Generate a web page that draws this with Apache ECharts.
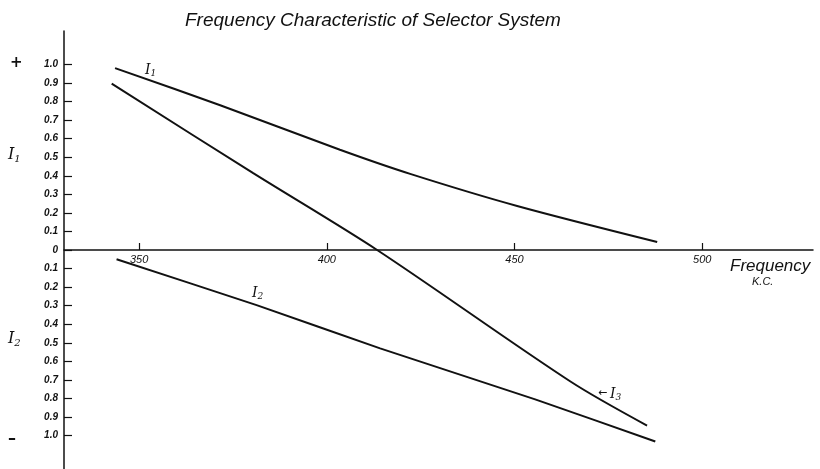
<!DOCTYPE html>
<html>
<head>
<meta charset="utf-8">
<script src="https://cdn.jsdelivr.net/npm/echarts@6/dist/echarts.min.js"></script>
<style>
  html, body { margin: 0; padding: 0; background: #fff; }
  #chart { width: 820px; height: 469px; }
</style>
</head>
<body>
<div id="chart"></div>
<script>
// curve points: [frequency K.C., current]
const i1Points = [[343.6, 0.98], [371.6, 0.78], [403.5, 0.54], [422.2, 0.41], [450.7, 0.237], [488.0, 0.043]]
const i2Points = [[344.0, -0.05], [381.3, -0.297], [414.2, -0.53], [455.5, -0.805], [487.5, -1.032]]
const i3Points = [[342.7, 0.896], [380.4, 0.414], [413.4, 0], [465.0, -0.71], [485.3, -0.946]]

const freqTicks = [350, 400, 450, 500]
const currentTicks = [-1.0, -0.9, -0.8, -0.7, -0.6, -0.5, -0.4, -0.3, -0.2, -0.1, 0, 0.1, 0.2, 0.3, 0.4, 0.5, 0.6, 0.7, 0.8, 0.9, 1.0]

const chart = echarts.init(document.getElementById('chart'))

const lineStyle = { color: '#111', width: 2 }
const labelFont = 'Liberation Sans'

// subscripted curve name, e.g. I₁
function curveName (n, big) {
  return {
    text: '{i|I}{s|' + n + '}',
    rich: {
      i: { font: 'italic ' + (big ? 16 : 14) + 'px "DejaVu Serif"', fill: '#111' },
      s: { font: 'italic ' + (big ? 10 : 9) + 'px "DejaVu Serif"', fill: '#111', padding: [big ? 8 : 7, 0, 0, 0] }
    }
  }
}

const option = {
  backgroundColor: '#fff',
  animation: false,
  grid: { left: 64, right: 7, top: 31, bottom: 0, outerBoundsMode: 'none' },
  xAxis: {
    type: 'value',
    min: 330,
    max: 529.5,
    position: 'bottom',
    offset: -219, // axis runs along the zero line
    splitLine: { show: false },
    axisLine: { onZero: false, lineStyle: { color: '#111', width: 1.5 } },
    axisTick: { inside: true, length: 7, customValues: freqTicks, lineStyle: { color: '#111', width: 1.2 } },
    axisLabel: {
      customValues: freqTicks,
      margin: 4,
      color: '#111',
      fontFamily: labelFont,
      fontStyle: 'italic',
      fontSize: 11
    }
  },
  yAxis: {
    type: 'value',
    min: -1.18,
    max: 1.18,
    splitLine: { show: false },
    axisLine: { lineStyle: { color: '#111', width: 1.5 } },
    axisTick: { inside: true, length: 8, customValues: currentTicks, lineStyle: { color: '#111', width: 1.2 } },
    axisLabel: {
      customValues: currentTicks,
      margin: 6,
      color: '#111',
      fontFamily: labelFont,
      fontStyle: 'italic',
      fontWeight: 'bold',
      fontSize: 10,
      formatter: function (v) {
        return Math.abs(v) < 1e-9 ? '0' : Math.abs(v).toFixed(1)
      }
    }
  },
  series: [
    { name: 'I1', type: 'line', data: i1Points, smooth: 0.3, showSymbol: false, lineStyle: lineStyle },
    { name: 'I2', type: 'line', data: i2Points, smooth: 0.15, showSymbol: false, lineStyle: lineStyle },
    { name: 'I3', type: 'line', data: i3Points, smooth: 0.3, showSymbol: false, lineStyle: lineStyle }
  ],
  graphic: [
    {
      type: 'text', x: 185, y: 11,
      style: { text: 'Frequency Characteristic of Selector System', fill: '#111', font: 'italic 19px "Liberation Sans"' }
    },
    {
      type: 'text', x: 730, y: 258,
      style: { text: 'Frequency', fill: '#111', font: 'italic 17px "Liberation Sans"' }
    },
    {
      type: 'text', x: 752, y: 276,
      style: { text: 'K.C.', fill: '#111', font: 'italic 11px "Liberation Sans"' }
    },
    { type: 'text', x: 10, y: 56, style: { text: '+', fill: '#111', font: 'bold 15px "DejaVu Sans"' } },
    { type: 'text', x: 8, y: 431, style: { text: '–', fill: '#111', font: 'bold 16px "DejaVu Sans"' } },
    { type: 'text', x: 8, y: 146, style: curveName(1, true) },
    { type: 'text', x: 8, y: 330, style: curveName(2, true) },
    { type: 'text', x: 145, y: 62, style: curveName(1, false) },
    { type: 'text', x: 252, y: 285, style: curveName(2, false) },
    { type: 'text', x: 598, y: 388, style: { text: '←', fill: '#111', font: '11px "DejaVu Sans"' } },
    { type: 'text', x: 610, y: 386, style: curveName(3, false) }
  ]
}

chart.setOption(option)
</script>
</body>
</html>
